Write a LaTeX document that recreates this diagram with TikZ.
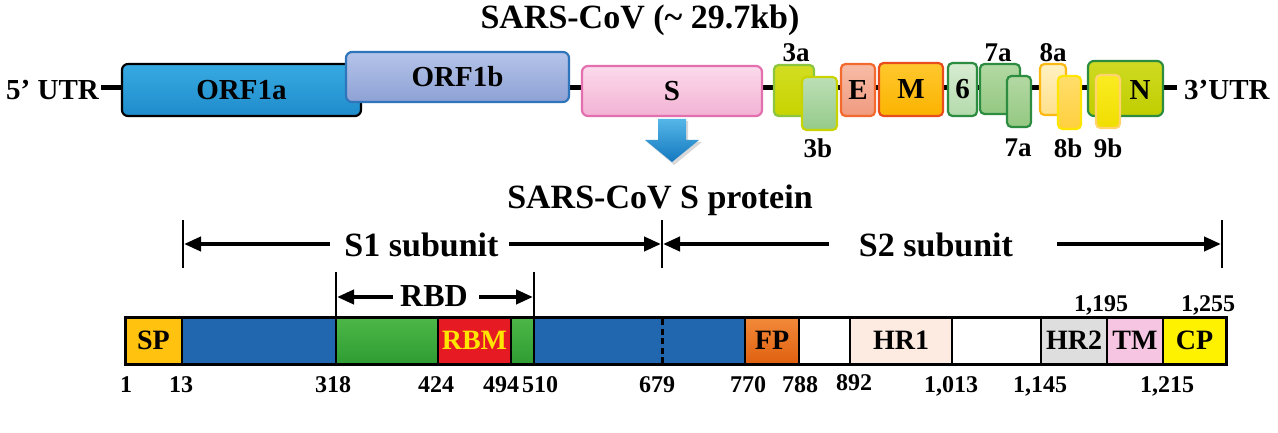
\documentclass[tikz,border=0pt]{standalone}
\usepackage{fontspec}
\setmainfont{Liberation Serif}
\usetikzlibrary{arrows.meta}
\definecolor{orfA}{HTML}{2A9FD8}
\definecolor{orfAt}{HTML}{38AAE2}
\definecolor{orfAb}{HTML}{1E8CCB}
\definecolor{orfBt}{HTML}{B5C4E9}
\definecolor{orfBb}{HTML}{8DA1D4}
\definecolor{orfBd}{HTML}{2F75BB}
\definecolor{sT}{HTML}{FBDAEB}
\definecolor{sB}{HTML}{F3B2D4}
\definecolor{sD}{HTML}{E36FAF}
\definecolor{yg}{HTML}{C8D400}
\definecolor{ygT}{HTML}{D2DD22}
\definecolor{ygD}{HTML}{8CC63F}
\definecolor{lgT}{HTML}{BCDFB5}
\definecolor{lgB}{HTML}{95CA8A}
\definecolor{eT}{HTML}{F7BCA7}
\definecolor{eB}{HTML}{F09A7E}
\definecolor{eD}{HTML}{F26A2D}
\definecolor{mT}{HTML}{FFC82E}
\definecolor{mB}{HTML}{FBB300}
\definecolor{mD}{HTML}{E84E1B}
\definecolor{sixT}{HTML}{D8ECD2}
\definecolor{sixB}{HTML}{B3DAAB}
\definecolor{dg}{HTML}{2C8C40}
\definecolor{sevT}{HTML}{B3D9A3}
\definecolor{sevB}{HTML}{94C882}
\definecolor{eaT}{HTML}{FFF1C2}
\definecolor{eaB}{HTML}{FFE08A}
\definecolor{eaD}{HTML}{FDB913}
\definecolor{ebT}{HTML}{FFDE6A}
\definecolor{ebB}{HTML}{FFCF3E}
\definecolor{ebD}{HTML}{FFE500}
\definecolor{nT}{HTML}{CFDA22}
\definecolor{nB}{HTML}{C0CE00}
\definecolor{nbT}{HTML}{FAEC22}
\definecolor{nbB}{HTML}{F0DD00}
\definecolor{nbD}{HTML}{FFD46E}
\definecolor{arT}{HTML}{55B6E8}
\definecolor{arB}{HTML}{1378BE}
\definecolor{spc}{HTML}{FFC20E}
\definecolor{bluc}{HTML}{2167B0}
\definecolor{grT}{HTML}{4DB848}
\definecolor{grB}{HTML}{2F9C33}
\definecolor{rbmc}{HTML}{E51A22}
\definecolor{rbmt}{HTML}{FFE600}
\definecolor{fpT}{HTML}{F28B3B}
\definecolor{fpB}{HTML}{DF600F}
\definecolor{hroc}{HTML}{FDEBE2}
\definecolor{hrtc}{HTML}{DEDEDE}
\definecolor{tmc}{HTML}{F6C5E1}
\definecolor{cpc}{HTML}{FFF200}
\definecolor{shad}{HTML}{D8D8D8}
\begin{document}
\begin{tikzpicture}[x=1pt,y=-1pt,
  gbox/.style={rounded corners=6pt, line width=2.2pt, inner sep=0pt,
    font=\bfseries\fontsize{29}{32}\selectfont},
  sbox/.style={gbox, rounded corners=4.5pt},
  title/.style={font=\bfseries\fontsize{34}{38}\selectfont, inner sep=0pt},
  lbl/.style={font=\bfseries\fontsize{29}{32}\selectfont, inner sep=0pt},
  small/.style={font=\bfseries\fontsize{27}{30}\selectfont, inner sep=0pt},
  barlbl/.style={font=\bfseries\fontsize{28}{30}\selectfont, inner sep=0pt},
  num/.style={font=\bfseries\fontsize{24}{26}\selectfont, inner sep=0pt, anchor=base},
  dimarr/.style={line width=4pt, -{Triangle[length=17pt,width=14pt]}},
  tick/.style={line width=2pt},
  sep/.style={line width=2.5pt}]
\useasboundingbox (0,0) rectangle (1278,433);
\fill[white] (0,0) rectangle (1278,433);

% ---------- genome ----------
\node[title, anchor=base] (t1) at (640,29) {SARS-CoV (\textasciitilde\ 29.7kb)};
\coordinate (g5) at (101,88);
\coordinate (g3) at (1177,88);
\draw[line width=5pt] (g5) -- (g3);
\node[lbl, anchor=east] (utr5) at (99,90) {5’ UTR};
\node[lbl, anchor=west] (utr3) at (1184,90) {3’UTR};

\node[gbox, draw=black, top color=orfAt, bottom color=orfAb, minimum width=239pt, minimum height=52pt] (orf1a) at (241.5,90) {ORF1a};
\node[gbox, draw=orfBd, top color=orfBt, bottom color=orfBb, minimum width=223pt, minimum height=50pt] (orf1b) at (457.5,77) {ORF1b};
\node[gbox, draw=sD, top color=sT, bottom color=sB, minimum width=180pt, minimum height=50pt] (sgene) at (672,91) {S};
\node[sbox, draw=ygD, top color=ygT, bottom color=yg, minimum width=40pt, minimum height=51pt] (g3a) at (794,90.5) {};
\node[sbox, draw=yg, top color=lgT, bottom color=lgB, minimum width=35pt, minimum height=53pt] (g3b) at (819.5,103.5) {};
\node[sbox, draw=eD, top color=eT, bottom color=eB, minimum width=34pt, minimum height=52pt] (gE) at (858,90) {E};
\node[sbox, draw=mD, top color=mT, bottom color=mB, minimum width=64pt, minimum height=53pt] (gM) at (911,89.5) {M};
\node[sbox, draw=dg, top color=sixT, bottom color=sixB, minimum width=29pt, minimum height=53pt] (g6) at (962.5,89.5) {6};
\node[sbox, draw=dg, top color=sevT, bottom color=sevB, minimum width=40pt, minimum height=50pt] (g7a) at (1000,89) {};
\node[sbox, draw=dg, top color=sevT, bottom color=sevB, minimum width=24pt, minimum height=51pt] (g7b) at (1019,101.5) {};
\node[sbox, draw=eaD, top color=eaT, bottom color=eaB, minimum width=26pt, minimum height=51pt] (g8a) at (1053,89.5) {};
\node[sbox, draw=ebD, top color=ebT, bottom color=ebB, minimum width=23pt, minimum height=53pt] (g8b) at (1069.5,102.5) {};
\node[gbox, draw=dg, top color=nT, bottom color=nB, minimum width=75pt, minimum height=55pt] (gN) at (1125.5,88.5) {};
\node[sbox, draw=nbD, top color=nbT, bottom color=nbB, minimum width=24pt, minimum height=53pt] (g9b) at (1108,101.5) {};
\node[lbl] (nlab) at (1140,90) {N};

\node[small] (l3a) at (796,53) {3a};
\node[small] (l3b) at (818,148) {3b};
\node[small] (l7a) at (998,53) {7a};
\node[small] (l7b) at (1018,148) {7a};
\node[small] (l8a) at (1053,53) {8a};
\node[small] (l8b) at (1068,148) {8b};
\node[small] (l9b) at (1108,148) {9b};

% blue arrow with soft shadow
\fill[shad] (660,121) -- (688,121) -- (688,142) -- (702,142) -- (674,165) -- (647,142) -- (660,142) -- cycle;
\shade[top color=arT, bottom color=arB] (658,119) -- (686,119) -- (686,140) -- (699,140) -- (672,162) -- (645,140) -- (658,140) -- cycle;

% ---------- S protein ----------
\node[title, anchor=base] (t2) at (660,208) {SARS-CoV S protein};

\coordinate (s1l) at (183,244);
\coordinate (s1m) at (662,244);
\coordinate (s2r) at (1222,244);
\draw[tick] (183,220) -- (183,268);
\draw[tick] (662,220) -- (662,268);
\draw[tick] (1222,220) -- (1222,268);
\node[title, anchor=base] (s1) at (421.5,256) {S1 subunit};
\node[title, anchor=base] (s2) at (936,256) {S2 subunit};
\coordinate (s1a) at (330,244);
\coordinate (s1b) at (509,244);
\coordinate (s2a) at (829,244);
\coordinate (s2b) at (1057,244);
\draw[dimarr] (s1a) -- ([xshift=1pt]s1l);
\draw[dimarr] (s1b) -- ([xshift=-1pt]s1m);
\draw[dimarr] (s2a) -- ([xshift=1pt]s1m);
\draw[dimarr] (s2b) -- ([xshift=-1pt]s2r);

\draw[tick] (336,272) -- (336,317);
\draw[tick] (534,272) -- (534,317);
\node[title, anchor=base, font=\bfseries\fontsize{32}{34}\selectfont] (rbd) at (434,306) {RBD};
\coordinate (rbl) at (337,297);
\coordinate (rbr) at (533,297);
\coordinate (rba) at (393,297);
\coordinate (rbb) at (479,297);
\draw[dimarr] (rba) -- (rbl);
\draw[dimarr] (rbb) -- (rbr);

% bar segments
\fill[spc] (125,317) rectangle (182,364);
\fill[bluc] (182,317) rectangle (336,364);
\shade[top color=grT, bottom color=grB] (336,317) rectangle (438,364);
\fill[rbmc] (438,317) rectangle (511,364);
\shade[top color=grT, bottom color=grB] (511,317) rectangle (534,364);
\fill[bluc] (534,317) rectangle (745,364);
\shade[top color=fpT, bottom color=fpB] (745,317) rectangle (799,364);
\fill[white] (799,317) rectangle (850,364);
\fill[hroc] (850,317) rectangle (952,364);
\fill[white] (952,317) rectangle (1041,364);
\fill[hrtc] (1041,317) rectangle (1107,364);
\fill[tmc] (1107,317) rectangle (1163,364);
\fill[cpc] (1163,317) rectangle (1226,364);
\foreach \xx in {182,336,438,511,534,745,799,850,952,1041,1107,1163}
  \draw[sep] (\xx,317) -- (\xx,364);
\draw[line width=3pt, dash pattern=on 6pt off 3.5pt] (662,319) -- (662,364);
\draw[line width=3pt] (125,317) rectangle (1226,364);

\node[barlbl] (sp) at (153.5,340.5) {SP};
\node[barlbl, text=rbmt] (rbm) at (474.5,340.5) {RBM};
\node[barlbl] (fp) at (772,340.5) {FP};
\node[barlbl] (hr1) at (901,340.5) {HR1};
\node[barlbl] (hr2) at (1074,340.5) {HR2};
\node[barlbl] (tm) at (1135,340.5) {TM};
\node[barlbl] (cp) at (1194.5,340.5) {CP};

\node[num] (n1) at (126,392) {1};
\node[num] (n13) at (181,392) {13};
\node[num] (n318) at (333,392) {318};
\node[num] (n424) at (436,392) {424};
\node[num] (n494) at (501,392) {494};
\node[num] (n510) at (540,392) {510};
\node[num] (n679) at (657,392) {679};
\node[num] (n770) at (748,392) {770};
\node[num] (n788) at (800,392) {788};
\node[num] (n892) at (854,390) {892};
\node[num] (n1013) at (951,392) {1,013};
\node[num] (n1145) at (1040,392) {1,145};
\node[num] (n1215) at (1167,392) {1,215};
\node[num] (n1195) at (1101,311) {1,195};
\node[num] (n1255) at (1208,311) {1,255};
\end{tikzpicture}
\end{document}
